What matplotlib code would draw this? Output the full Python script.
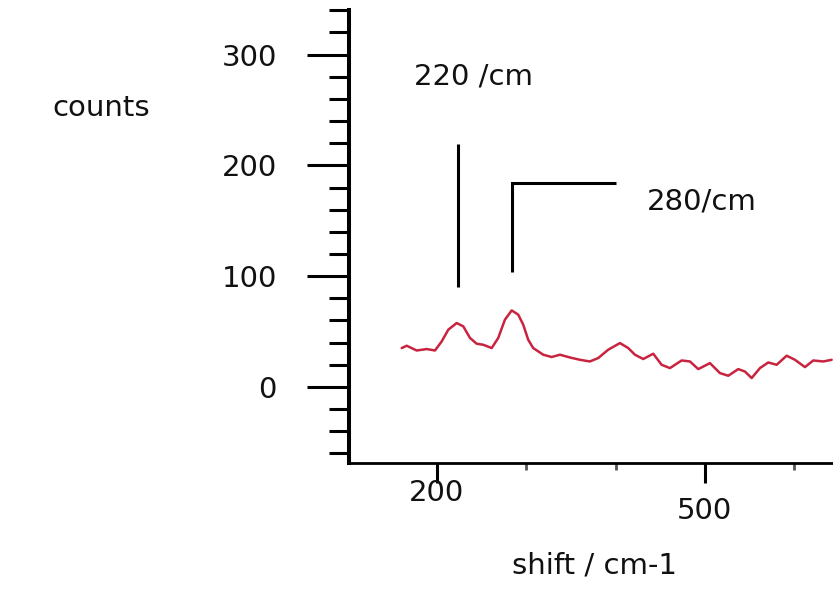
import matplotlib
matplotlib.use("Agg")
import matplotlib.pyplot as plt
from matplotlib.ticker import MultipleLocator, FixedLocator

plt.rcParams['font.family'] = ['DejaVu Sans']

# Raman spectrum
shift = [160.5, 166.1, 177.3, 188.5, 197.8, 205.3, 212.7, 222.1, 229.5, 237.0,
         244.5, 251.8, 261.3, 268.6, 276.1, 283.7, 291.0, 296.6, 302.2, 307.8,
         319.0, 328.4, 337.7, 348.9, 360.1, 371.3, 380.6, 391.8, 404.9, 414.2,
         421.7, 431.0, 442.2, 451.6, 460.9, 474.0, 483.3, 492.6, 505.7, 516.9,
         526.2, 537.4, 544.9, 552.4, 561.7, 571.0, 580.4, 591.6, 600.9, 612.1,
         621.4, 632.6, 642.0]
counts = [35.0, 37.1, 32.8, 34.1, 32.8, 41.0, 51.6, 57.6, 54.6, 44.1,
          38.9, 38.0, 35.0, 44.1, 60.6, 69.0, 65.2, 56.1, 42.5, 35.0,
          29.0, 26.9, 29.0, 26.5, 24.4, 22.9, 26.0, 33.5, 39.5, 35.0,
          29.0, 25.1, 29.9, 19.9, 16.9, 23.8, 22.9, 16.0, 21.4, 12.4,
          10.0, 16.0, 13.8, 7.9, 16.9, 22.0, 19.9, 28.1, 24.4, 17.8,
          23.8, 22.9, 24.4]

# Peak markers
peak1_x = [223.5, 223.5]
peak1_y = [90.5, 219.0]
peak2_x = [400.0, 284.3, 284.3]
peak2_y = [184.3, 184.3, 103.4]
peak1_label = "220 /cm"
peak2_label = "280/cm"

x_major = [200, 500]
x_major_labels = ["200", "500"]
x_minor = [300, 400, 600]
y_major = [0, 100, 200, 300]
y_major_labels = ["0", "100", "200", "300"]

W, H = 833, 593
FS = 21
fig = plt.figure(figsize=(W / 100, H / 100), dpi=100)
ax = fig.add_axes([349 / W, (H - 463) / H, (W - 349) / W, (463 - 10) / H])

ax.plot(shift, counts, color='#c8243f', lw=1.8, solid_joinstyle='round',
        solid_capstyle='round')
ax.plot(peak1_x, peak1_y, color='black', lw=2.2, solid_capstyle='butt')
ax.plot(peak2_x, peak2_y, color='black', lw=2.2, solid_capstyle='butt',
        solid_joinstyle='miter')

ax.set_xlim(101.5, 643.5)
ax.set_ylim(-68.8, 340.3)

for s in ['top', 'right']:
    ax.spines[s].set_visible(False)
ax.spines['left'].set_linewidth(2.9)
ax.spines['bottom'].set_linewidth(2.0)

ax.xaxis.set_major_locator(FixedLocator(x_major))
ax.set_xticklabels(x_major_labels)
ax.xaxis.set_minor_locator(FixedLocator(x_minor))
ax.yaxis.set_major_locator(FixedLocator(y_major))
ax.set_yticklabels(y_major_labels)
ax.yaxis.set_minor_locator(MultipleLocator(20))

ax.tick_params(axis='y', which='major', length=30, width=2.2, direction='out',
               pad=22, labelsize=FS, labelcolor='#111111')
ax.tick_params(axis='y', which='minor', length=14.4, width=2.2, direction='out')
ax.tick_params(axis='x', which='major', length=14.4, width=2.2, direction='out',
               pad=-3, labelsize=FS, labelcolor='#111111')
ax.tick_params(axis='x', which='minor', length=5, width=2.0, direction='out',
               color='#555555')
ax.xaxis.get_major_ticks()[1].set_pad(10)

ax.text(241.4, 280.5, peak1_label, fontsize=FS, ha='center', va='center',
        color='#111111')
ax.text(496.2, 167.4, peak2_label, fontsize=FS, ha='center', va='center',
        color='#111111')

fig.text(101 / W, 1 - 108 / H, "counts", fontsize=FS, ha='center', va='center',
         color='#111111')
fig.text(594 / W, 1 - 566 / H, "shift / cm-1", fontsize=FS, ha='center',
         va='center', color='#111111')

fig.savefig("out.png", dpi=100)
